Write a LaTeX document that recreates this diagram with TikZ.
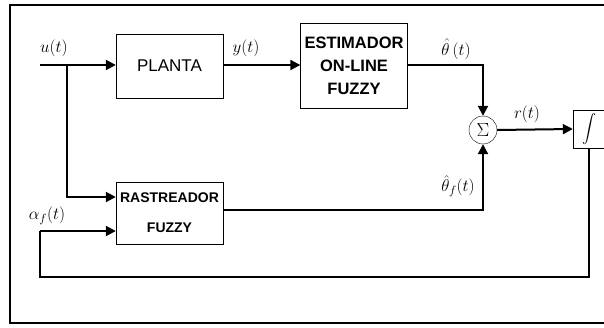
\RequirePackage{fix-cm}
\documentclass[tikz,border=0pt]{standalone}
\usepackage{amsmath, amssymb}
\usepackage[no-math]{fontspec}
\setmainfont{Liberation Sans}
\usetikzlibrary{positioning, arrows.meta}

\tikzset{
  block/.style={draw, thin, inner sep=0pt, align=center},
  signal/.style={line width=2pt, -{Triangle[length=10pt, width=10pt]}},
  wire/.style={line width=2pt},
  lbl/.style={font=\fontsize{17}{20}\selectfont}
}

\begin{document}
\begin{tikzpicture}[x=1pt, y=1pt]

        % Page size
        \useasboundingbox (0,0) rectangle (604,327);
        \clip (0,0) rectangle (604,327);

        % Outer frame
        \draw[line width=2pt] (10,4) rectangle (630,322);

        % Blocks
        \node[block, minimum width=107pt, minimum height=64pt,
              font=\fontsize{17}{20}\selectfont] (planta) at (169.5,261) {PLANTA};
        \node[block, minimum width=107pt, minimum height=85pt,
              font=\bfseries\fontsize{16.5}{23}\selectfont] (estim) at (354,261.5) {ESTIMADOR\\ON-LINE\\FUZZY};
        \node[block, minimum width=107pt, minimum height=62pt,
              font=\bfseries\fontsize{14}{30}\selectfont] (rastr) at (169.5,114) {RASTREADOR\\FUZZY};
        \node[draw, thin, circle, minimum size=28pt, inner sep=0pt,
              font=\fontsize{19}{22}\selectfont] (sum) at (483,197) {$\Sigma$};
        \node[block, minimum width=32pt, minimum height=38pt,
              font=\fontsize{14}{16}\selectfont] (integ) at (589,198) {$\displaystyle\int$};

        % Free ends of the wires
        \coordinate (uin) at (40,262);
        \coordinate (split) at (67,262);
        \coordinate (fbdown) at (integ.south |- 0,50);
        \coordinate (fbleft) at (40,50);
        \coordinate (fbup) at (40,96);

        % Input u(t) to the plant and to the tracker
        \draw[signal] (uin) -- (planta.west |- uin);
        \draw[signal] (split) |- (rastr.west |- 0,130);

        % Plant output y(t)
        \draw[signal] (planta.east |- uin) -- (estim.west |- uin);

        % Estimates into the sum
        \draw[signal] (estim.east |- uin) -| (sum.north);
        \draw[signal] (rastr.east |- 0,117) -| (sum.south);

        % Sum to integrator r(t)
        \draw[signal] (sum.east) -- (integ.west);

        % Feedback alpha_f(t)
        \draw[wire] (integ.south) -- (fbdown) -- (fbleft) -- (fbup);
        \draw[signal] (fbup) -- (rastr.west |- fbup);

        % Labels
        \node[lbl] (lu) at (54,279) {$u(t)$};
        \node[lbl] (ly) at (246,279) {$y(t)$};
        \node[lbl] (lth) at (456,278) {$\hat{\theta}\,(t)$};
        \node[lbl] (lr) at (527,213) {$r(t)$};
        \node[lbl] (lthf) at (458,141) {$\hat{\theta}_{f}(t)$};
        \node[lbl] (lal) at (47,111) {$\alpha_{f}(t)$};

    \end{tikzpicture}
\end{document}
